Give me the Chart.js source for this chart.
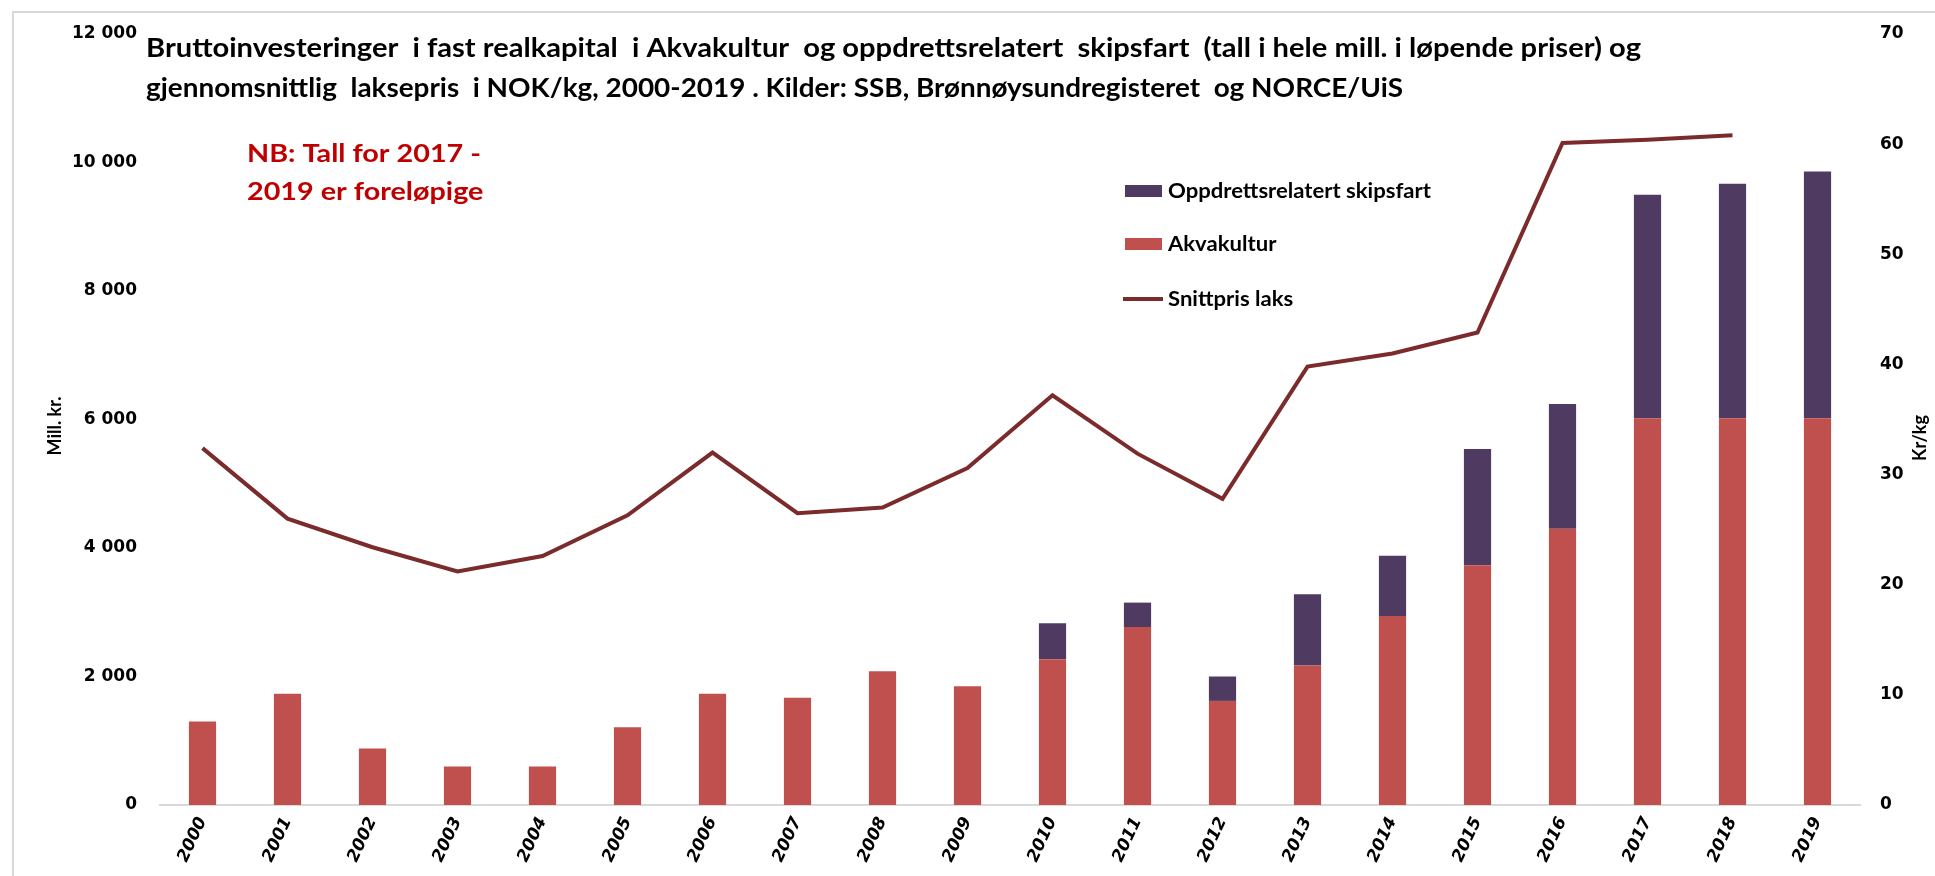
<!DOCTYPE html>
<html>
<head>
<meta charset="utf-8">
<script src="https://cdn.jsdelivr.net/npm/chart.js@4/dist/chart.umd.min.js"></script>
<style>
    html, body { margin: 0; padding: 0; background: #fff; }
</style>
</head>
<body>
<canvas id="diagram" width="1935" height="876"></canvas>
<script type="text/javascript">
    // values
    var years = ['2000', '2001', '2002', '2003', '2004', '2005', '2006', '2007', '2008', '2009',
                 '2010', '2011', '2012', '2013', '2014', '2015', '2016', '2017', '2018', '2019'];
    var akvakultur = [1300, 1730, 880, 600, 600, 1210, 1730, 1670, 2080, 1850,
                      2270, 2770, 1620, 2170, 2940, 3730, 4300, 6020, 6020, 6020];
    var skipsfart = [null, null, null, null, null, null, null, null, null, null,
                     560, 380, 380, 1110, 940, 1810, 1940, 3480, 3650, 3840];
    var snittpris = [32.4, 26.0, 23.4, 21.2, 22.6, 26.3, 32.0, 26.5, 27.0, 30.6,
                     37.2, 31.9, 27.8, 39.8, 41.0, 42.9, 60.1, 60.4, 60.8, null];
    var leftMax = 12000, leftStep = 2000;
    var rightMax = 70, rightStep = 10;

    var titleLines = [
        'Bruttoinvesteringer  i fast realkapital  i Akvakultur  og oppdrettsrelatert  skipsfart  (tall i hele mill. i løpende priser) og',
        'gjennomsnittlig  laksepris  i NOK/kg, 2000-2019 . Kilder: SSB, Brønnøysundregisteret  og NORCE/UiS'
    ];
    var noteLines = ['NB: Tall for 2017 -', '2019 er foreløpige'];

    var redCol = '#c0504d';
    var purpleCol = '#4f3b61';
    var lineCol = '#7b2b2b';
    var textFont = 'Lato, "Open Sans", sans-serif';
    var tickFont = '"DejaVu Sans", Verdana, sans-serif';

    function fmt(v) {
        return String(v).replace(/\B(?=(\d{3})+(?!\d))/g, ' ');
    }

    // draw text squeezed/stretched horizontally by sx
    function scaledText(ctx, txt, x, y, sx) {
        ctx.save();
        ctx.translate(x, y);
        ctx.scale(sx, 1);
        ctx.fillText(txt, 0, 0);
        ctx.restore();
    }

    var decorations = {
        id: 'decorations',
        beforeDraw: function(chart) {
            var ctx = chart.ctx;
            ctx.save();
            ctx.fillStyle = '#fff';
            ctx.fillRect(0, 0, chart.width, chart.height);
            ctx.strokeStyle = '#d9d9d9';
            ctx.lineWidth = 2;
            ctx.beginPath();
            ctx.moveTo(13, chart.height);
            ctx.lineTo(13, 12);
            ctx.lineTo(chart.width, 12);
            ctx.stroke();
            ctx.restore();
        },
        afterDraw: function(chart) {
            var ctx = chart.ctx;
            ctx.save();
            ctx.textBaseline = 'alphabetic';
            ctx.textAlign = 'left';

            // title
            ctx.fillStyle = '#000';
            ctx.font = 'bold 26px ' + textFont;
            scaledText(ctx, titleLines[0], 146, 57, 1495 / ctx.measureText(titleLines[0]).width);
            scaledText(ctx, titleLines[1], 146, 97, 1257 / ctx.measureText(titleLines[1]).width);

            // note
            ctx.fillStyle = '#c00000';
            ctx.font = 'bold 25px ' + textFont;
            var sn = 234 / ctx.measureText(noteLines[0]).width;
            scaledText(ctx, noteLines[0], 247, 162, sn);
            scaledText(ctx, noteLines[1], 247, 200, sn);

            // axis titles
            ctx.fillStyle = '#000';
            ctx.font = 'bold 18px ' + textFont;
            ctx.textAlign = 'center';
            ctx.textBaseline = 'middle';
            ctx.save();
            ctx.translate(55, 426);
            ctx.rotate(-Math.PI / 2);
            ctx.fillText('Mill. kr.', 0, 0);
            ctx.restore();
            ctx.save();
            ctx.translate(1920, 438);
            ctx.rotate(-Math.PI / 2);
            ctx.fillText('Kr/kg', 0, 0);
            ctx.restore();

            // legend
            var rows = [chart.data.datasets[1], chart.data.datasets[0], chart.data.datasets[2]];
            var rowY = [191, 244, 299];
            ctx.textAlign = 'left';
            ctx.textBaseline = 'middle';
            ctx.font = 'bold 20px ' + textFont;
            var sl = 263 / ctx.measureText(rows[0].label).width;
            for (var i = 0; i < rows.length; i++) {
                var ds = rows[i];
                if (ds.type === 'line') {
                    ctx.strokeStyle = ds.borderColor;
                    ctx.lineWidth = 4;
                    ctx.beginPath();
                    ctx.moveTo(1123, rowY[i]);
                    ctx.lineTo(1163, rowY[i]);
                    ctx.stroke();
                }
                else {
                    ctx.fillStyle = ds.backgroundColor;
                    ctx.fillRect(1125, rowY[i] - 6, 37, 12);
                }
                ctx.fillStyle = '#000';
                scaledText(ctx, ds.label, 1168, rowY[i] + 1, sl);
            }
            ctx.restore();
        }
    };

    var ctx = document.getElementById('diagram');
    var myChart = new Chart(ctx, {
        type: 'bar',
        data: {
            labels: years,
            datasets: [
                {
                    label: 'Akvakultur',
                    data: akvakultur,
                    backgroundColor: redCol,
                    yAxisID: 'y',
                    stack: 'inv',
                    order: 2,
                    barPercentage: 0.32,
                    categoryPercentage: 1
                },
                {
                    label: 'Oppdrettsrelatert skipsfart',
                    data: skipsfart,
                    backgroundColor: purpleCol,
                    yAxisID: 'y',
                    stack: 'inv',
                    order: 2,
                    barPercentage: 0.32,
                    categoryPercentage: 1
                },
                {
                    type: 'line',
                    label: 'Snittpris laks',
                    data: snittpris,
                    borderColor: lineCol,
                    backgroundColor: lineCol,
                    borderWidth: 4,
                    pointRadius: 0,
                    tension: 0,
                    yAxisID: 'y1',
                    order: 1
                }
            ]
        },
        options: {
            responsive: false,
            animation: false,
            devicePixelRatio: 1,
            layout: { padding: { top: 34, left: 0, right: 0, bottom: 0 } },
            plugins: {
                legend: { display: false },
                title: { display: false },
                tooltip: { enabled: false }
            },
            scales: {
                x: {
                    stacked: true,
                    offset: true,
                    grid: { display: false, drawTicks: false },
                    border: { display: true, color: '#d9d9d9', width: 2 },
                    ticks: {
                        color: '#000',
                        font: { family: tickFont, size: 17, weight: 'bold', style: 'italic' },
                        minRotation: 65,
                        maxRotation: 65,
                        padding: 9
                    },
                    afterFit: function(scale) { scale.height = 71; }
                },
                y: {
                    position: 'left',
                    stacked: true,
                    min: 0,
                    max: leftMax,
                    grid: { display: false, drawTicks: false },
                    border: { display: false },
                    ticks: {
                        stepSize: leftStep,
                        color: '#000',
                        padding: 23,
                        font: { family: tickFont, size: 17, weight: 'bold' },
                        callback: function(v) { return fmt(v); }
                    },
                    afterFit: function(scale) { scale.width = 160; }
                },
                y1: {
                    position: 'right',
                    min: 0,
                    max: rightMax,
                    grid: { display: false, drawTicks: false },
                    border: { display: false },
                    ticks: {
                        stepSize: rightStep,
                        color: '#000',
                        padding: 20,
                        font: { family: tickFont, size: 17, weight: 'bold' }
                    },
                    afterFit: function(scale) { scale.width = 75; }
                }
            }
        },
        plugins: [decorations]
    });
</script>
</body>
</html>
